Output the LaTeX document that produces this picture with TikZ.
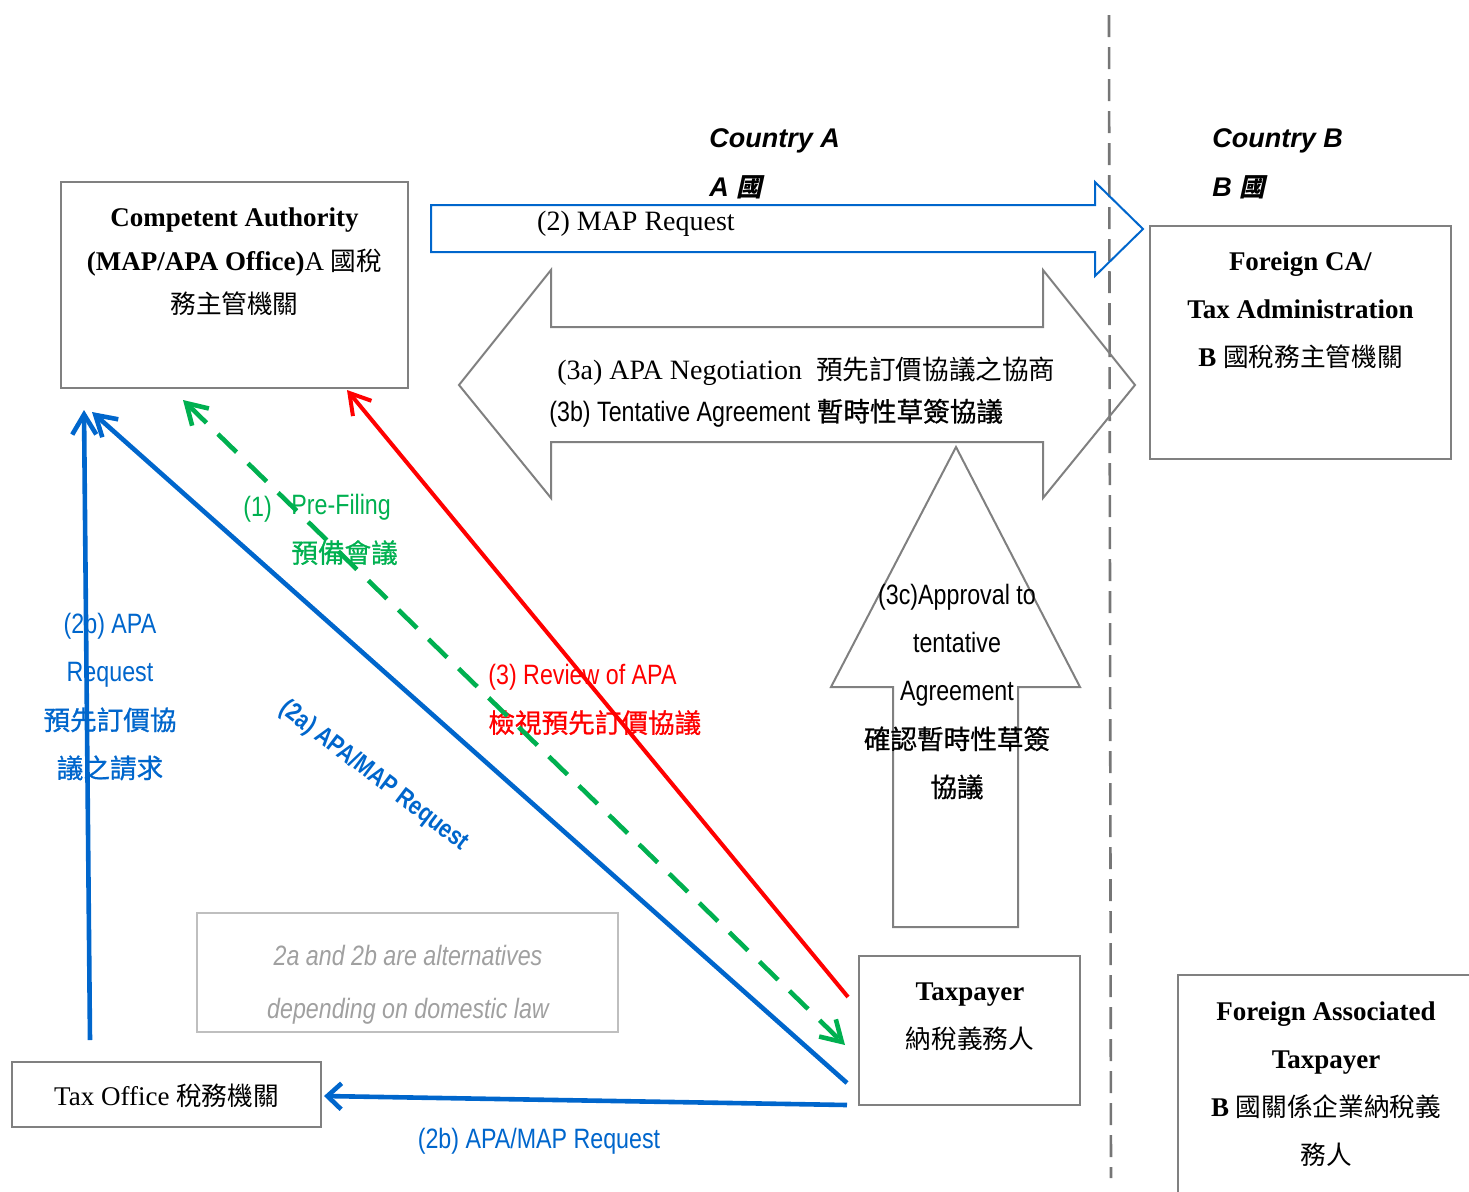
\documentclass[tikz,border=0pt]{standalone}
\usepackage{fontspec}
\setmainfont{Liberation Serif}
\newfontfamily\narrowsans{Liberation Sans}[FakeStretch=0.83]
\newfontfamily\headsans{Liberation Sans}
\newfontfamily\cjk{Noto Sans CJK TC}[Scale=0.95]
\newfontfamily\cjkm{Noto Sans CJK TC}[Scale=0.95,FakeBold=0.8]
\newfontfamily\cjkslant{Noto Sans CJK TC}[Scale=0.95,FakeSlant=0.22]
\usetikzlibrary{arrows.meta}

\definecolor{mblue}{RGB}{0,102,204}
\definecolor{mgreen}{RGB}{0,176,80}
\definecolor{mred}{RGB}{255,0,0}
\definecolor{boxgray}{RGB}{128,128,128}
\definecolor{notegray}{RGB}{191,191,191}
\definecolor{notetext}{RGB}{160,160,160}
\definecolor{bordergray}{RGB}{118,118,118}

\tikzset{
  box/.style={draw=boxgray, line width=1pt, inner sep=0pt},
  serif/.style={font=\fontsize{13.5}{24}\selectfont, align=center, inner sep=0pt},
  lbl/.style={font=\narrowsans\fontsize{14}{24}\selectfont, align=center, inner sep=0pt},
  head/.style={font=\headsans\bfseries\itshape\fontsize{13.5}{16}\selectfont, inner sep=0pt, anchor=west},
  flow/.style={line width=2.3pt, -{Straight Barb[length=10pt,width=12pt]}},
  blockarrow/.style={line width=1pt, line join=miter},
}

\begin{document}
\begin{tikzpicture}[x=0.5pt, y=-0.5pt]
\useasboundingbox (0,0) rectangle (1469,1191);
\clip (0,0) rectangle (1469,1191);

% border between the two countries
\draw[bordergray, line width=1.3pt, dash pattern=on 11pt off 5pt] (1109,15) -- (1111,1178);

% country headings
\node[head] (cA) at (709,141) {Country A};
\node[head] (cAz) at (709,187) {A {\cjkslant\bfseries 國}};
\node[head] (cB) at (1212,141) {Country B};
\node[head] (cBz) at (1212,187) {B {\cjkslant\bfseries 國}};

% boxes
\node[box, minimum width=173.5pt, minimum height=103pt] (ca) at (234.5,285) {};
\node[box, minimum width=150.5pt, minimum height=116.5pt] (fca) at (1300.5,342.5) {};
\node[box, minimum width=110.5pt, minimum height=74.5pt] (tp) at (969.5,1030.5) {};
\node[box, minimum width=151pt, minimum height=112.5pt] (fat) at (1329,1087.5) {};
\node[box, minimum width=154.5pt, minimum height=32.5pt] (to) at (166.5,1094.5) {};
\node[draw=notegray, line width=1pt, minimum width=210.5pt, minimum height=59.5pt, inner sep=0pt] (note) at (407.5,972.5) {};

% box texts
\node[serif, font=\fontsize{13.5}{21.75}\selectfont] (caT) at (234.5,262)
  {\textbf{Competent Authority}\\\textbf{(MAP/APA Office)}A {\cjk 國稅}\\{\cjk 務主管機關}};
\node[serif] (fcaT) at (1300.5,310)
  {\textbf{Foreign CA/}\\\textbf{Tax Administration}\\\textbf{B} {\cjk 國稅務主管機關}};
\node[serif] (tpT) at (970,1017) {\textbf{Taxpayer}\\{\cjk 納稅義務人}};
\node[serif] (fatT) at (1326,1084)
  {\textbf{Foreign Associated}\\\textbf{Taxpayer}\\\textbf{B} {\cjk 國關係企業納稅義}\\{\cjk 務人}};
\node[serif] (toT) at (166.5,1096) {Tax Office {\cjk 稅務機關}};
\node[lbl, font=\narrowsans\itshape\fontsize{14}{26.5}\selectfont, text=notetext] (noteT) at (408,985)
  {2a and 2b are alternatives\\depending on domestic law};

% block arrow: MAP request to country B
\draw[blockarrow, mblue] (431,205) -- (1095,205) -- (1095,182) -- (1143,229)
  -- (1095,276) -- (1095,252) -- (431,252) -- cycle;
\node[serif, font=\fontsize{14}{16}\selectfont] (mapT) at (636,224) {(2) MAP Request};

% block arrow: negotiation between the two authorities
\draw[blockarrow, boxgray] (459,385) -- (551,270) -- (551,327) -- (1043,327) -- (1043,270)
  -- (1135,385) -- (1043,498) -- (1043,442) -- (551,442) -- (551,498) -- cycle;
\node[serif, anchor=west, font=\fontsize{14}{16}\selectfont] (negT) at (557,371)
  {(3a) APA Negotiation\ \ {\cjk 預先訂價協議之協商}};
\node[lbl, anchor=west] (tentT) at (549,413)
  {(3b) Tentative Agreement {\cjkm 暫時性草簽協議}};

% block arrow: approval of the tentative agreement
\draw[blockarrow, boxgray] (956,447) -- (1080,687) -- (1018,687) -- (1018,927)
  -- (893,927) -- (893,687) -- (831,687) -- cycle;
\node[lbl] (apprT) at (957,692)
  {(3c)Approval to\\tentative\\Agreement\\{\cjkm 確認暫時性草簽}\\{\cjkm 協議}};

% connector labels
\node[lbl, text=mgreen, anchor=west] (pf1) at (243,509) {(1)};
\node[lbl, text=mgreen, anchor=north west, align=left] (pf2) at (291,494)
  {Pre-Filing\\{\cjkm 預備會議}};
\node[lbl, text=mblue] (req2b) at (110,697)
  {(2b) APA\\Request\\{\cjkm 預先訂價協}\\{\cjkm 議之請求}};
\node[lbl, text=mblue, rotate=-37.3, font=\narrowsans\bfseries\fontsize{12.8}{16}\selectfont] (req2a) at (374,776)
  {(2a) APA/MAP Request};
\node[lbl, text=mred, anchor=north west, align=left] (rev) at (488,664)
  {(3) Review of APA\\{\cjkm 檢視預先訂價協議}};
\node[lbl, text=mblue] (req2bb) at (539,1141) {(2b) APA/MAP Request};

% connector end points
\coordinate (caV) at (84,410);
\coordinate (caD) at (92,412);
\coordinate (caG) at (183,400);
\coordinate (caR) at (347,390);
\coordinate (toV) at (90,1040);
\coordinate (toH) at (324,1096);
\coordinate (tpD) at (847,1083);
\coordinate (tpG) at (845,1045);
\coordinate (tpR) at (848,997);
\coordinate (tpH) at (847,1105);

% connectors
\draw[flow, mblue] (toV) -- (caV);
\draw[flow, mblue] (tpD) -- (caD);
\draw[flow, mgreen, {Straight Barb[length=10pt,width=12pt]}-{Straight Barb[length=10pt,width=12pt]},
      dash pattern=on 13pt off 8pt] (caG) -- (tpG);
\draw[flow, mred, line width=2pt] (tpR) -- (caR);
\draw[flow, mblue, -{Straight Barb[length=7pt,width=13pt]}] (tpH) -- (toH);
\end{tikzpicture}
\end{document}
